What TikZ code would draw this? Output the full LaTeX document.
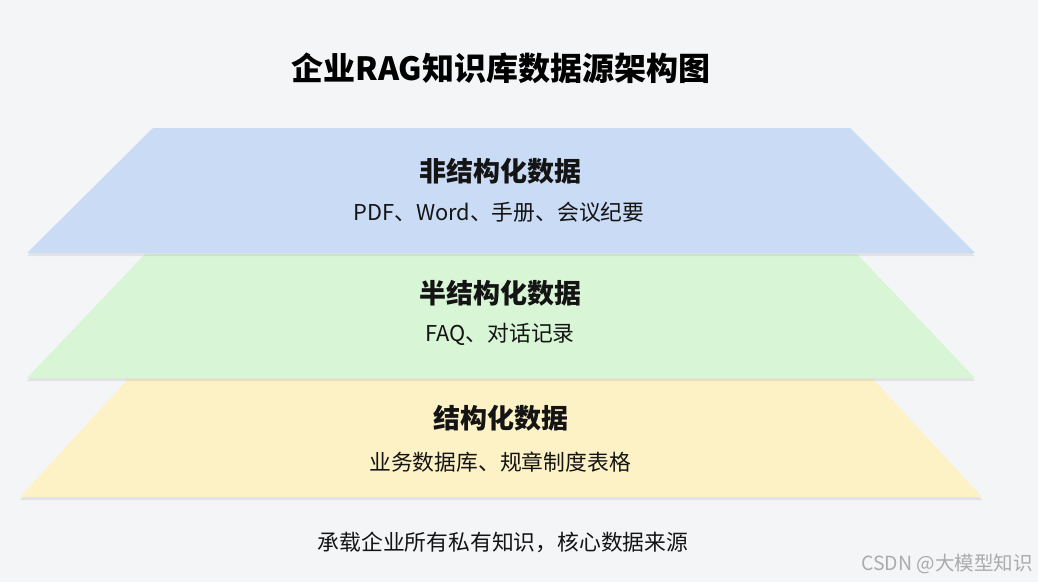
\documentclass[tikz,border=0pt]{standalone}
\usepackage{fontspec}
\setmainfont{Noto Sans CJK SC}
\newfontfamily\wmfont{Noto Sans CJK SC}
\usetikzlibrary{shadows}
\definecolor{bgc}{HTML}{F4F5F7}
\definecolor{bluel}{HTML}{C9DBF5}
\definecolor{greenl}{HTML}{D8F5D5}
\definecolor{yellowl}{HTML}{FDF1C6}
\definecolor{txt}{HTML}{141414}
\definecolor{wm}{HTML}{ABABAB}
\tikzset{
  layer/.style={draw=none, drop shadow={shadow xshift=0pt, shadow yshift=-3pt, opacity=0.07, fill=black}},
  head/.style={font=\fontsize{27}{30}\selectfont\bfseries, text=txt, inner sep=0pt},
  sub/.style={font=\fontsize{21.8}{24}\selectfont, text=txt, inner sep=0pt},
}
\begin{document}
\begin{tikzpicture}[x=1pt,y=-1pt]
\useasboundingbox (0,0) rectangle (1038,582);
\fill[bgc] (0,0) rectangle (1038,582);
% layers
\path[layer, fill=yellowl] (128,379) -- (873,379) -- (982,497) -- (20,497) -- cycle;
\path[layer, fill=greenl] (145,254) -- (857,254) -- (975,378) -- (27,378) -- cycle;
\path[layer, fill=bluel] (153,128) -- (850,128) -- (975,253) -- (27,253) -- cycle;
% title
\node[font=\fontsize{32}{36}\selectfont\bfseries, text=black, inner sep=0pt] (title) at (501,68) {企业RAG知识库数据源架构图};
% texts
\node[head] (h1) at (500,171) {非结构化数据};
\node[sub] (s1) at (499,212) {PDF、Word、手册、会议纪要};
\node[head] (h2) at (500,293) {半结构化数据};
\node[sub] (s2) at (500,334) {FAQ、对话记录};
\node[head] (h3) at (501,418) {结构化数据};
\node[sub] (s3) at (500,462) {业务数据库、规章制度表格};
\node[sub] (foot) at (503,542) {承载企业所有私有知识，核心数据来源};
\node[font=\wmfont\fontsize{19.5}{22}\selectfont, text=wm, inner sep=0pt, anchor=east] (wm) at (1033,564) {CSDN @大模型知识};
\end{tikzpicture}
\end{document}
